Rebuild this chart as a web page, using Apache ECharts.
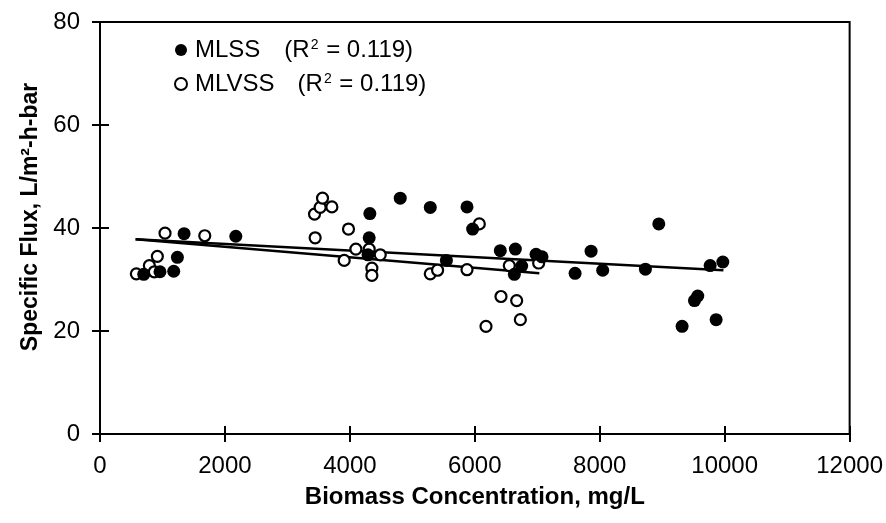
<!DOCTYPE html>
<html>
<head>
<meta charset="utf-8">
<script src="https://cdn.jsdelivr.net/npm/echarts@6/dist/echarts.min.js"></script>
<style>html,body{margin:0;padding:0;background:#fff}#c{width:886px;height:523px}</style>
</head>
<body>
<div id="c"></div>
<script>
// MLSS (filled circles)
const mlssX = [700, 960, 1180, 1239, 1346, 2174, 4290, 4309, 4320, 4806, 5287, 5545, 5875, 5965, 6408, 6633, 6649, 6750, 6980, 7076, 7605, 7861, 8047, 8731, 8945, 9318, 9516, 9569, 9767, 9863, 9970];
const mlssY = [31.0, 31.5, 31.6, 34.3, 38.9, 38.4, 34.8, 38.1, 42.8, 45.8, 44.0, 33.7, 44.1, 39.8, 35.6, 31.0, 35.9, 32.6, 34.9, 34.4, 31.2, 35.5, 31.8, 32.0, 40.8, 20.9, 25.9, 26.8, 32.7, 22.2, 33.4];
// MLVSS (open circles)
const mlvssX = [582, 790, 870, 918, 1041, 1677, 3434, 3444, 3524, 3562, 3712, 3909, 3978, 4096, 4309, 4352, 4352, 4486, 5287, 5404, 5875, 6072, 6179, 6419, 6552, 6670, 6729, 7022];
const mlvssY = [31.1, 32.7, 31.5, 34.5, 39.0, 38.5, 42.7, 38.1, 44.0, 45.8, 44.1, 33.7, 39.8, 35.9, 35.9, 32.2, 30.8, 34.8, 31.1, 31.8, 31.9, 40.8, 20.9, 26.7, 32.7, 25.9, 22.2, 33.2];
// Trend line endpoints
const mlssLineX = [570, 9980];
const mlssLineY = [37.8, 31.8];
const mlvssLineX = [570, 7033];
const mlvssLineY = [37.8, 31.2];
// Axis settings
const xTicks = [0, 2000, 4000, 6000, 8000, 10000, 12000];
const yTicks = [0, 20, 40, 60, 80];
const r2Text = '0.119';

const zip = (a, b) => a.map((v, i) => [v, b[i]]);
const FONT = 'Liberation Sans, Arial, sans-serif';
const chart = echarts.init(document.getElementById('c'), null, {renderer: 'canvas'});

const axisBase = {
  type: 'value',
  splitLine: {show: false},
  axisLine: {show: true, onZero: false, lineStyle: {color: '#000', width: 2}},
};

chart.setOption({
  backgroundColor: '#fff',
  animation: false,
  textStyle: {fontFamily: FONT, color: '#000'},
  grid: {left: 100, right: 36, top: 22, bottom: 89, show: true, borderColor: '#000', borderWidth: 2, backgroundColor: 'transparent'},
  legend: {
    data: ['MLSS', 'MLVSS'],
    orient: 'vertical',
    left: 169,
    top: 33,
    itemWidth: 12,
    itemHeight: 12,
    itemGap: 10,
    selectedMode: false,
    formatter: function (name) {
      if (name === 'MLSS') return '{a|MLSS}{r|(R}{s|2}{b| = ' + r2Text + ')}';
      return '{a|MLVSS}{r2|(R}{s|2}{b| = ' + r2Text + ')}';
    },
    textStyle: {
      fontFamily: FONT, color: '#000', fontSize: 24,
      rich: {
        a: {fontSize: 24, lineHeight: 24, color: '#000', fontFamily: FONT, padding: [0, 0, 0, 3]},
        r: {fontSize: 24, lineHeight: 24, color: '#000', fontFamily: FONT, padding: [0, 0, 0, 24]},
        r2: {fontSize: 24, lineHeight: 24, color: '#000', fontFamily: FONT, padding: [0, 0, 0, 23]},
        b: {fontSize: 24, lineHeight: 24, color: '#000', fontFamily: FONT},
        s: {fontSize: 14, lineHeight: 14, color: '#000', fontFamily: FONT, verticalAlign: 'top', padding: [0, 1, 0, 1]}
      }
    }
  },
  xAxis: [
    Object.assign({}, axisBase, {
      min: xTicks[0], max: xTicks[xTicks.length - 1], interval: xTicks[1] - xTicks[0],
      position: 'bottom',
      name: 'Biomass Concentration, mg/L',
      nameLocation: 'middle', nameGap: 51,
      nameTextStyle: {fontFamily: FONT, fontSize: 24, fontWeight: 'bold', color: '#000'},
      axisTick: {show: true, inside: false, length: 8, lineStyle: {color: '#000', width: 2}},
      axisLabel: {fontFamily: FONT, fontSize: 24, color: '#000', margin: 20, formatter: v => String(v)}
    }),
    Object.assign({}, axisBase, {
      min: xTicks[0], max: xTicks[xTicks.length - 1], interval: xTicks[1] - xTicks[0],
      position: 'bottom',
      axisLine: {show: false},
      axisTick: {show: true, inside: true, length: 8, lineStyle: {color: '#000', width: 2}},
      axisLabel: {show: false}
    })
  ],
  yAxis: [
    Object.assign({}, axisBase, {
      min: yTicks[0], max: yTicks[yTicks.length - 1], interval: yTicks[1] - yTicks[0],
      position: 'left',
      name: 'Specific Flux, L/m²-h-bar',
      nameLocation: 'middle', nameGap: 58,
      nameTextStyle: {fontFamily: FONT, fontSize: 23, fontWeight: 'bold', color: '#000', padding: [0, 0, 0, 22]},
      axisTick: {show: true, inside: false, length: 8, lineStyle: {color: '#000', width: 2}},
      axisLabel: {fontFamily: FONT, fontSize: 24, color: '#000', margin: 20, formatter: v => String(v)}
    }),
    Object.assign({}, axisBase, {
      min: yTicks[0], max: yTicks[yTicks.length - 1], interval: yTicks[1] - yTicks[0],
      position: 'left',
      axisLine: {show: false},
      axisTick: {show: true, inside: true, length: 9, lineStyle: {color: '#000', width: 2}},
      axisLabel: {show: false}
    })
  ],
  series: [
    {
      name: 'MLSS trend', type: 'line', xAxisIndex: 0, yAxisIndex: 0,
      data: zip(mlssLineX, mlssLineY), symbol: 'none', silent: true,
      lineStyle: {color: '#000', width: 2.5}, z: 1
    },
    {
      name: 'MLVSS trend', type: 'line', xAxisIndex: 0, yAxisIndex: 0,
      data: zip(mlvssLineX, mlvssLineY), symbol: 'none', silent: true,
      lineStyle: {color: '#000', width: 2.5}, z: 1
    },
    {
      name: 'MLSS', type: 'scatter', xAxisIndex: 0, yAxisIndex: 0,
      data: zip(mlssX, mlssY), symbol: 'circle', symbolSize: 13,
      itemStyle: {color: '#000', borderColor: '#000', borderWidth: 0, opacity: 1}, z: 3
    },
    {
      name: 'MLVSS', type: 'scatter', xAxisIndex: 0, yAxisIndex: 0,
      data: zip(mlvssX, mlvssY), symbol: 'circle', symbolSize: 11,
      itemStyle: {color: '#fff', borderColor: '#000', borderWidth: 2.2, opacity: 1}, z: 2
    }
  ]
});
</script>
</body>
</html>
